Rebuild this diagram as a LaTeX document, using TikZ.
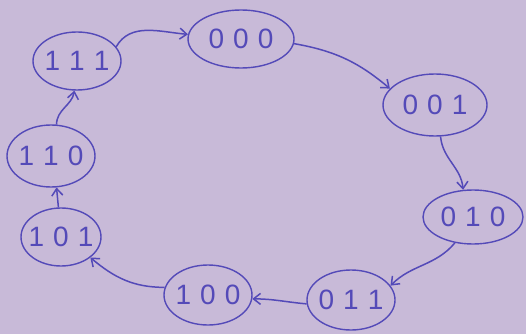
\documentclass[tikz,border=0pt]{standalone}
\usepackage{fontspec}
\setmainfont{Liberation Sans}
\usetikzlibrary{shapes.geometric,arrows.meta}
\definecolor{paper}{RGB}{200,186,216}
\definecolor{ink}{RGB}{84,74,184}
% three digits set wide apart
\newcommand{\bits}[3]{#1\hspace{9pt}#2\hspace{9pt}#3}
\begin{document}
\begin{tikzpicture}[x=1pt,y=-1pt,
  state/.style={ellipse,draw=ink,line width=1.4pt,inner sep=0pt},
  digits/.style={text=ink,font=\fontsize{28}{28}\selectfont},
  link/.style={draw=ink,line width=1.5pt,-{Straight Barb[length=7pt,width=11pt]}}]
  \fill[paper] (0,0) rectangle (526,334);
  \useasboundingbox (0,0) rectangle (526,334);
  % states around the ring; the ellipse keeps its size, the digits sit on top
  \node[state,minimum width=88pt,minimum height=58pt,label={[digits]center:\bits111}] (s111) at (77,61) {};
  \node[state,minimum width=106pt,minimum height=58pt,label={[digits]center:\bits000}] (s000) at (241,39) {};
  \node[state,minimum width=104pt,minimum height=62pt,label={[digits]center:\bits001}] (s001) at (435,105) {};
  \node[state,minimum width=100pt,minimum height=54pt,label={[digits]center:\bits010}] (s010) at (473,217) {};
  \node[state,minimum width=88pt,minimum height=60pt,label={[digits]center:\bits011}] (s011) at (351,300) {};
  \node[state,minimum width=88pt,minimum height=60pt,label={[digits]center:\bits100}] (s100) at (208,295) {};
  \node[state,minimum width=80pt,minimum height=58pt,label={[digits]center:\bits101}] (s101) at (61,237) {};
  \node[state,minimum width=88pt,minimum height=62pt,label={[digits]center:\bits110}] (s110) at (51,156) {};
  % transitions
  \draw[link] (s111.20) to[out=60,in=175] (s000.175);
  \draw[link] (s000.-5) to[out=-10,in=140] (s001.160);
  \draw[link] (s001.-80) to[out=-85,in=95] (s010.110);
  \draw[link] (s010.-125) to[out=-130,in=45] (s011.20);
  \draw[link] (s011.185) to[out=175,in=0] (s100.-5);
  \draw[link] (s100.170) to[out=180,in=-40] (s101.-35);
  \draw[link] (s101.95) -- (s110.-80);
  \draw[link] (s110.80) to[out=90,in=-100] (s111.-95);
\end{tikzpicture}
\end{document}
